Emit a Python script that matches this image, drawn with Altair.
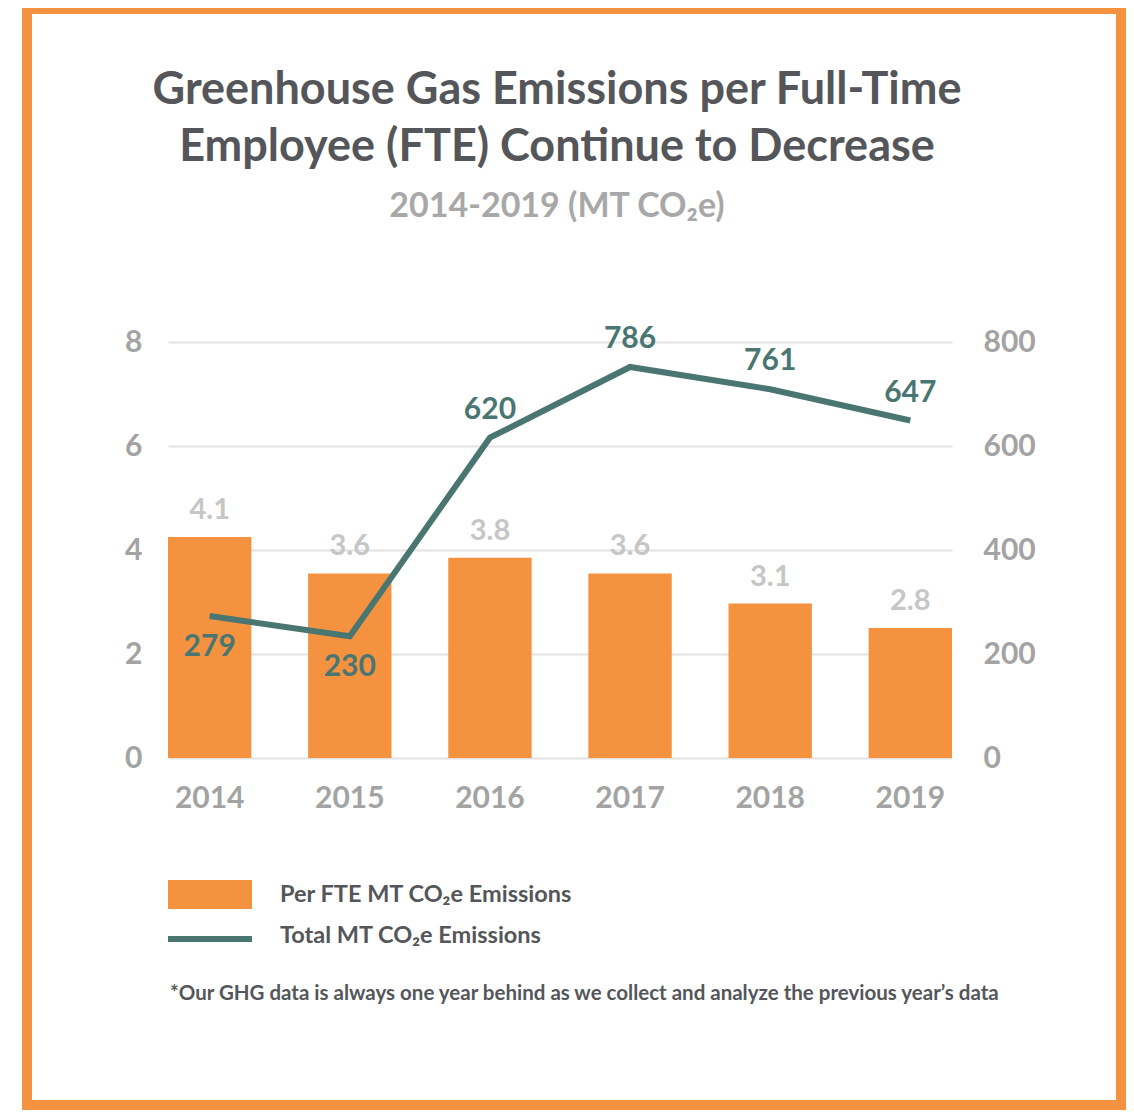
import altair as alt
import pandas as pd

# ---- data ----
years = ["2014", "2015", "2016", "2017", "2018", "2019"]
per_fte_bar = [4.25, 3.55, 3.85, 3.55, 2.97, 2.50]          # drawn bar heights (left axis)
per_fte_label = ["4.1", "3.6", "3.8", "3.6", "3.1", "2.8"]   # printed labels
total_line = [273, 234, 616, 752, 709, 649]                  # drawn line heights (right axis)
total_label = ["279", "230", "620", "786", "761", "647"]     # printed labels
label_side = ["below", "below", "above", "above", "above", "above"]

title_lines = ["Greenhouse Gas Emissions per Full-Time", "Employee (FTE) Continue to Decrease"]
subtitle = "2014-2019 (MT CO₂e)"
legend_names = ["Per FTE MT CO₂e Emissions", "Total MT CO₂e Emissions"]
footnote = "*Our GHG data is always one year behind as we collect and analyze the previous year’s data"

ORANGE = "#F4923F"
TEAL = "#4A7672"
DARK = "#54565A"
AXIS_GREY = "#A3A3A3"
LABEL_GREY = "#C6C6C6"
FONT = "Lato"

df = pd.DataFrame({
    "year": years,
    "per_fte": per_fte_bar,
    "per_fte_label": per_fte_label,
    "total": total_line,
    "total_label": total_label,
    "side": label_side,
})

x_enc = alt.X(
    "year:N",
    scale=alt.Scale(paddingInner=0.405, paddingOuter=0),
    axis=alt.Axis(title=None, labelAngle=0, ticks=False, domain=False, grid=False,
                  labelPadding=25, labelFontSize=30, labelFont=FONT,
                  labelFontWeight="bold", labelColor=AXIS_GREY),
)

base = alt.Chart(df)

bars = base.mark_bar(color=ORANGE).encode(
    x=x_enc,
    y=alt.Y("per_fte:Q", scale=alt.Scale(domain=[0, 8]),
            axis=alt.Axis(title=None, values=[0, 2, 4, 6, 8], ticks=False, domain=False,
                          labelPadding=26, labelFontSize=30, labelFont=FONT,
                          labelFontWeight="bold", labelColor=AXIS_GREY,
                          gridColor="#E2E2E2", gridWidth=2)),
)
bar_text = base.mark_text(dy=-27, baseline="middle", fontSize=29, font=FONT,
                          fontWeight="bold", color=LABEL_GREY).encode(
    x=alt.X("year:N"),
    y=alt.Y("per_fte:Q"),
    text="per_fte_label:N",
)
left = alt.layer(bars, bar_text)

line = base.mark_line(color=TEAL, strokeWidth=6).encode(
    x=alt.X("year:N"),
    y=alt.Y("total:Q", scale=alt.Scale(domain=[0, 800]),
            axis=alt.Axis(title=None, orient="right", values=[0, 200, 400, 600, 800],
                          grid=False, ticks=False, domain=False,
                          labelPadding=31, labelFontSize=30, labelFont=FONT,
                          labelFontWeight="bold", labelColor=AXIS_GREY)),
)
line_text_above = base.transform_filter(alt.datum.side == "above").mark_text(
    dy=-28, baseline="middle", fontSize=30, font=FONT, fontWeight="bold", color=TEAL
).encode(x=alt.X("year:N"), y=alt.Y("total:Q"), text="total_label:N")
line_text_below = base.transform_filter(alt.datum.side == "below").mark_text(
    dy=31, baseline="middle", fontSize=30, font=FONT, fontWeight="bold", color=TEAL
).encode(x=alt.X("year:N"), y=alt.Y("total:Q"), text="total_label:N")
right = alt.layer(line, line_text_above, line_text_below)

# ---- title, legend, footnote, frame ----
one = pd.DataFrame({"k": [0]})
title_df = pd.DataFrame({"t": title_lines, "row": [0, 1]})
t0 = alt.Chart(title_df).transform_filter(alt.datum.row == 0).mark_text(
    align="center", baseline="middle", fontSize=45, font=FONT, fontWeight="bold", color=DARK
).encode(x=alt.value(389), y=alt.value(-252), text="t:N")
t1 = alt.Chart(title_df).transform_filter(alt.datum.row == 1).mark_text(
    align="center", baseline="middle", fontSize=45, font=FONT, fontWeight="bold", color=DARK
).encode(x=alt.value(389), y=alt.value(-195), text="t:N")
sub = alt.Chart(pd.DataFrame({"t": [subtitle]})).mark_text(
    align="center", baseline="middle", fontSize=34, font=FONT, fontWeight="bold", color="#A8A8A8"
).encode(x=alt.value(389), y=alt.value(-135), text="t:N")

leg_df = pd.DataFrame({"name": legend_names, "row": [0, 1]})
leg_rect = alt.Chart(one).mark_rect(color=ORANGE).encode(
    x=alt.value(0), x2=alt.value(84), y=alt.value(538), y2=alt.value(567))
leg_line = alt.Chart(one).mark_rule(color=TEAL, strokeWidth=6).encode(
    x=alt.value(0), x2=alt.value(84), y=alt.value(597))
leg_text0 = alt.Chart(leg_df).transform_filter(alt.datum.row == 0).mark_text(
    align="left", baseline="middle", fontSize=23.5, font=FONT, fontWeight="bold", color=DARK
).encode(x=alt.value(112), y=alt.value(553), text="name:N")
leg_text1 = alt.Chart(leg_df).transform_filter(alt.datum.row == 1).mark_text(
    align="left", baseline="middle", fontSize=23.5, font=FONT, fontWeight="bold", color=DARK
).encode(x=alt.value(112), y=alt.value(594), text="name:N")
foot = alt.Chart(pd.DataFrame({"t": [footnote]})).mark_text(
    align="left", baseline="middle", fontSize=20.5, font=FONT, fontWeight="bold", color=DARK
).encode(x=alt.value(2), y=alt.value(652), text="t:N")

border = alt.Chart(one).mark_rect(filled=False, stroke=ORANGE, strokeWidth=10).encode(
    x=alt.value(-141), x2=alt.value(953), y=alt.value(-333), y2=alt.value(763))

chart = alt.layer(
    left, right, t0, t1, sub, leg_rect, leg_line, leg_text0, leg_text1, foot, border
).resolve_scale(y="independent").properties(
    width=784,
    height=416,
    padding={"left": 160, "top": 334, "right": 174, "bottom": 352},
    autosize=alt.AutoSizeParams(type="none"),
).configure(background="white").configure_view(stroke="transparent", strokeWidth=0)

chart.save("out.html", embed_options={"renderer": "svg", "actions": False})
